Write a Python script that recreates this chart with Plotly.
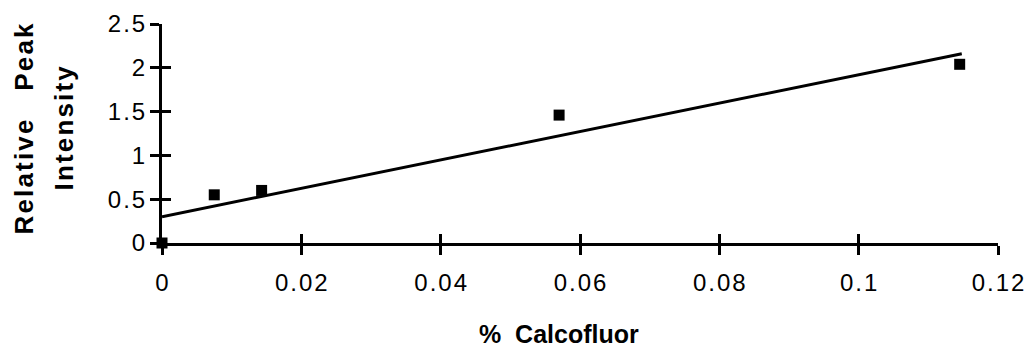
import plotly.graph_objects as go

# data
conc = [0.0, 0.0075, 0.0143, 0.0570, 0.1145]
intensity = [0.0, 0.55, 0.60, 1.46, 2.04]
fit_x = [0.0, 0.1148]
fit_y = [0.30, 2.16]

x_ticks = [0, 0.02, 0.04, 0.06, 0.08, 0.1, 0.12]
x_labels = ["0", "0.02", "0.04", "0.06", "0.08", "0.1", "0.12"]
y_ticks = [0, 0.5, 1, 1.5, 2, 2.5]
y_labels = ["0", "0.5", "1", "1.5", "2", "2.5"]
x_title = "%\u00a0\u00a0Calcofluor"
y_title = ["Relative\u00a0\u00a0\u00a0\u00a0Peak", "Intensity"]

HS = "\u200a"   # hair space, mimics the wide letter spacing of the original
def spaced(s, sep=HS):
    return sep.join(list(s))

FONT = "Liberation Sans, Arial, Helvetica, sans-serif"

fig = go.Figure()
fig.add_trace(go.Scatter(x=fit_x, y=fit_y, mode="lines",
                         line=dict(color="black", width=3),
                         cliponaxis=False, showlegend=False))
fig.add_trace(go.Scatter(x=conc, y=intensity, mode="markers",
                         marker=dict(symbol="square", size=11, color="black"),
                         cliponaxis=False, showlegend=False))
# dummy trace to activate overlay axes for crossing ticks
fig.add_trace(go.Scatter(x=[None], y=[None], xaxis="x2", yaxis="y2",
                         showlegend=False, hoverinfo="skip"))

axis_common = dict(showgrid=False, zeroline=False, showline=True,
                   linecolor="black", linewidth=3, tickcolor="black",
                   tickwidth=2.5, ticklen=9, automargin=False)

fig.update_layout(
    width=1033, height=347,
    margin=dict(l=154, r=43, t=16, b=112),
    paper_bgcolor="white", plot_bgcolor="white",
    font=dict(family=FONT, color="black"),
    xaxis=dict(range=[0, 0.12], tickvals=x_ticks,
               ticktext=[spaced(t) for t in x_labels],
               ticks="outside", tickfont=dict(size=24, family=FONT),
               ticklabelstandoff=7,
               **axis_common),
    yaxis=dict(range=[0, 2.5], tickvals=y_ticks,
               ticktext=[spaced(t) for t in y_labels],
               ticks="outside", tickfont=dict(size=24, family=FONT),
               **axis_common),
    xaxis2=dict(overlaying="x", matches="x", side="bottom", ticks="inside",
                tickvals=x_ticks, showticklabels=False, range=[0, 0.12],
                **axis_common),
    yaxis2=dict(overlaying="y", matches="y", side="left", ticks="inside",
                tickvals=y_ticks, showticklabels=False, range=[0, 2.5],
                **axis_common),
)

# x-axis title
fig.add_annotation(text="<b>" + x_title + "</b>",
                   xref="paper", yref="paper", x=0.5, y=0,
                   xanchor="center", yanchor="middle",
                   xshift=-21, yshift=-91, showarrow=False,
                   font=dict(size=25, family=FONT, color="black"))

# y-axis title, two rotated lines
y_shifts = [-139, -99]
for txt, shift in zip(y_title, y_shifts):
    words = txt.split("\u00a0\u00a0\u00a0\u00a0")
    shown = "\u00a0\u00a0\u00a0\u00a0".join(spaced(w) for w in words)
    fig.add_annotation(text="<b>" + shown + "</b>", textangle=-90,
                       xref="paper", yref="paper", x=0, y=0.5,
                       xanchor="center", yanchor="middle",
                       xshift=shift, yshift=5, showarrow=False,
                       font=dict(size=26, family=FONT, color="black"))

fig.write_html("out.html")
